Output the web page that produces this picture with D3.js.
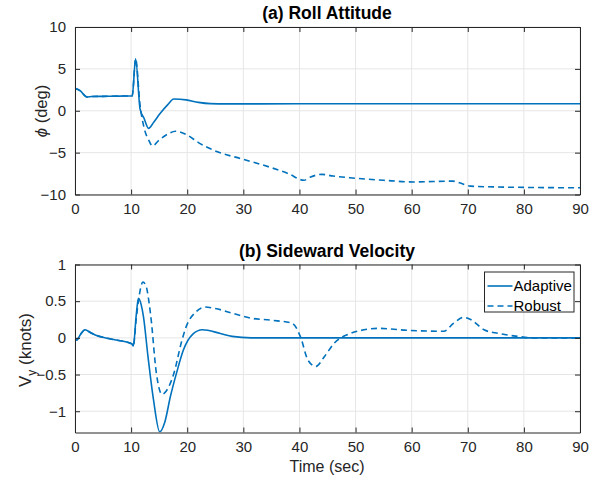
<!DOCTYPE html>
<html>
<head>
<meta charset="utf-8">
<script src="https://cdn.jsdelivr.net/npm/d3@7"></script>
<style>
  body { margin: 0; background: #fff; }
  svg text { font-family: "Liberation Sans", Arial, Helvetica, sans-serif; fill: #262626; }
</style>
</head>
<body>
<div id="chart"></div>
<script>
// ---- data ----
const xTicks = [0, 10, 20, 30, 40, 50, 60, 70, 80, 90];
const rollTicks = [-10, -5, 0, 5, 10];
const velTicks = [-1, -0.5, 0, 0.5, 1];
const seriesNames = ['Adaptive', 'Robust'];

const rollAdaptiveT = [0, 0.9, 2.1, 3, 5, 8, 10.2, 10.8, 11.6, 12.3, 13.1, 14, 15.2, 16.5, 17.6, 19.8, 22, 24.1, 27, 30, 40, 60, 90];
const rollAdaptive  = [2.68, 2.4, 1.65, 1.7, 1.72, 1.75, 1.78, 6.2, 0.2, -0.9, -2.1, -1.4, -0.3, 0.7, 1.4, 1.3, 1.0, 0.85, 0.82, 0.82, 0.84, 0.84, 0.84];

const rollRobustT = [0, 0.9, 2.1, 3, 5, 8, 10.2, 10.8, 11.6, 12.3, 13.2, 13.8, 15, 16.5, 17.9, 20, 22, 25, 30, 35, 38, 40.8, 42, 44, 46, 49, 55, 60.4, 67.3, 68.5, 70.5, 75, 80, 90];
const rollRobust  = [2.68, 2.4, 1.65, 1.7, 1.72, 1.75, 1.78, 6.2, 0.6, -2.0, -3.6, -4.2, -3.5, -2.8, -2.45, -2.9, -3.8, -4.8, -5.8, -6.8, -7.5, -8.3, -7.9, -7.6, -7.8, -8.0, -8.3, -8.5, -8.4, -8.6, -9.0, -9.1, -9.15, -9.2];

const velAdaptiveT = [0, 0.3, 1, 1.8, 2.8, 3.6, 6, 10.1, 10.4, 10.9, 11.3, 11.8, 12.2, 13, 14, 15.1, 16, 17, 18.2, 19.3, 21, 22.7, 25.9, 28, 31.4, 40, 90];
const velAdaptive  = [0, -0.03, 0.05, 0.11, 0.07, 0.04, -0.01, -0.08, -0.11, 0.3, 0.54, 0.45, 0.29, -0.25, -0.85, -1.28, -1.15, -0.8, -0.45, -0.17, 0.05, 0.11, 0.06, 0.02, 0, 0, 0];

const velRobustT = [0, 0.3, 1, 1.8, 2.8, 3.6, 6, 10.1, 10.4, 10.9, 11.3, 12.1, 12.6, 13.5, 14.5, 15.5, 16.3, 17.6, 19, 19.8, 21.5, 23.2, 25, 28.3, 31.3, 35, 38.7, 40.2, 41.5, 42.9, 44.5, 46.1, 49.1, 51.5, 53.9, 59.8, 65.7, 67.5, 69.3, 70.5, 72.9, 75.5, 78.9, 81.6, 90];
const velRobust  = [0, -0.03, 0.05, 0.11, 0.07, 0.04, -0.01, -0.08, -0.11, 0.25, 0.5, 0.76, 0.72, 0.3, -0.48, -0.77, -0.72, -0.49, -0.05, 0.15, 0.35, 0.42, 0.4, 0.33, 0.27, 0.24, 0.2, 0.01, -0.3, -0.39, -0.25, -0.08, 0.06, 0.11, 0.13, 0.1, 0.09, 0.2, 0.28, 0.25, 0.11, 0.06, 0.02, 0, 0];

const blue = '#0072BD';
const W = 598, H = 481;

const svg = d3.select('#chart').append('svg')
    .attr('width', W)
    .attr('height', H);

function drawPanel(opts){
    const x = d3.scaleLinear().domain([0, 90]).range([75, 580]);
    const y = d3.scaleLinear().domain(opts.yDomain).range([opts.bottom, opts.top]);
    const g = svg.append('g');

    // grid
    g.selectAll('.vgrid').data(xTicks).enter().append('line')
        .attr('x1', d => x(d)).attr('x2', d => x(d))
        .attr('y1', opts.top).attr('y2', opts.bottom)
        .attr('stroke', '#e6e6e6').attr('stroke-width', 1);
    g.selectAll('.hgrid').data(opts.yTicks).enter().append('line')
        .attr('x1', 75).attr('x2', 580)
        .attr('y1', d => y(d)).attr('y2', d => y(d))
        .attr('stroke', '#e6e6e6').attr('stroke-width', 1);

    // lines
    const line = d3.line()
        .x(d => x(d[0]))
        .y(d => y(d[1]))
        .curve(d3.curveMonotoneX);

    const clipId = 'clip' + Math.round(opts.top);
    svg.append('clipPath').attr('id', clipId)
        .append('rect').attr('x', 75).attr('y', opts.top).attr('width', 505).attr('height', opts.bottom - opts.top);

    g.append('path')
        .datum(d3.zip(opts.adaptiveT, opts.adaptive))
        .attr('d', line)
        .attr('clip-path', `url(#${clipId})`)
        .attr('fill', 'none').attr('stroke', blue).attr('stroke-width', 1.6);
    g.append('path')
        .datum(d3.zip(opts.robustT, opts.robust))
        .attr('d', line)
        .attr('clip-path', `url(#${clipId})`)
        .attr('fill', 'none').attr('stroke', blue).attr('stroke-width', 1.6)
        .attr('stroke-dasharray', '6,4');

    // axes (MATLAB style ticks inside, box on)
    const axisColor = '#262626';
    const fmt = d => d3.format('')(d);
    g.append('g').attr('transform', `translate(0,${opts.bottom})`)
        .call(d3.axisBottom(x).tickValues(xTicks).tickSizeInner(-5).tickSizeOuter(0).tickPadding(9).tickFormat(fmt));
    g.append('g').attr('transform', `translate(0,${opts.top})`)
        .call(d3.axisTop(x).tickValues(xTicks).tickSizeInner(-5).tickSizeOuter(0).tickFormat(''));
    g.append('g').attr('transform', 'translate(75,0)')
        .call(d3.axisLeft(y).tickValues(opts.yTicks).tickSizeInner(-5).tickSizeOuter(0).tickPadding(9).tickFormat(fmt));
    g.append('g').attr('transform', 'translate(580,0)')
        .call(d3.axisRight(y).tickValues(opts.yTicks).tickSizeInner(-5).tickSizeOuter(0).tickFormat(''));

    g.selectAll('.domain').attr('stroke', axisColor).attr('stroke-width', 1);
    g.selectAll('.tick line').attr('stroke', axisColor);
    g.selectAll('.tick text').attr('font-size', 15).style('fill', axisColor);

    // title
    g.append('text')
        .attr('x', 327).attr('y', opts.top - 8)
        .attr('text-anchor', 'middle')
        .attr('font-size', 17.5).attr('font-weight', 'bold')
        .style('fill', '#000')
        .text(opts.title);

    return { x, y, g };
}

// (a) Roll Attitude
drawPanel({
    top: 27, bottom: 194.5,
    yDomain: [-10, 10], yTicks: rollTicks,
    adaptiveT: rollAdaptiveT, adaptive: rollAdaptive,
    robustT: rollRobustT, robust: rollRobust,
    title: '(a) Roll Attitude'
});

svg.append('text')
    .attr('transform', 'translate(47,111) rotate(-90)')
    .attr('text-anchor', 'middle')
    .attr('font-size', 16.5)
    .html('<tspan font-style="italic">ϕ</tspan> (deg)');

// (b) Sideward Velocity
drawPanel({
    top: 264.5, bottom: 432.5,
    yDomain: [-1.29, 1], yTicks: velTicks,
    adaptiveT: velAdaptiveT, adaptive: velAdaptive,
    robustT: velRobustT, robust: velRobust,
    title: '(b) Sideward Velocity'
});

svg.append('text')
    .attr('transform', 'translate(31,350) rotate(-90)')
    .attr('text-anchor', 'middle')
    .attr('font-size', 17)
    .html('V<tspan font-size="12" dy="5">y</tspan><tspan dy="-5"> (knots)</tspan>');

svg.append('text')
    .attr('x', 327).attr('y', 472)
    .attr('text-anchor', 'middle')
    .attr('font-size', 16)
    .text('Time (sec)');

// legend
const legend = svg.append('g').attr('transform', 'translate(484.5,272)');
legend.append('rect')
    .attr('width', 89.5).attr('height', 40)
    .attr('fill', '#fff').attr('stroke', '#262626').attr('stroke-width', 1);
seriesNames.forEach((name, i) => {
    const yy = 14 + i * 20;
    legend.append('line')
        .attr('x1', 3).attr('x2', 28).attr('y1', yy).attr('y2', yy)
        .attr('stroke', blue).attr('stroke-width', 1.6)
        .attr('stroke-dasharray', i === 1 ? '6,4' : null);
    legend.append('text')
        .attr('x', 29).attr('y', yy + 5)
        .attr('font-size', 15)
        .style('fill', '#000')
        .text(name);
});
</script>
</body>
</html>
